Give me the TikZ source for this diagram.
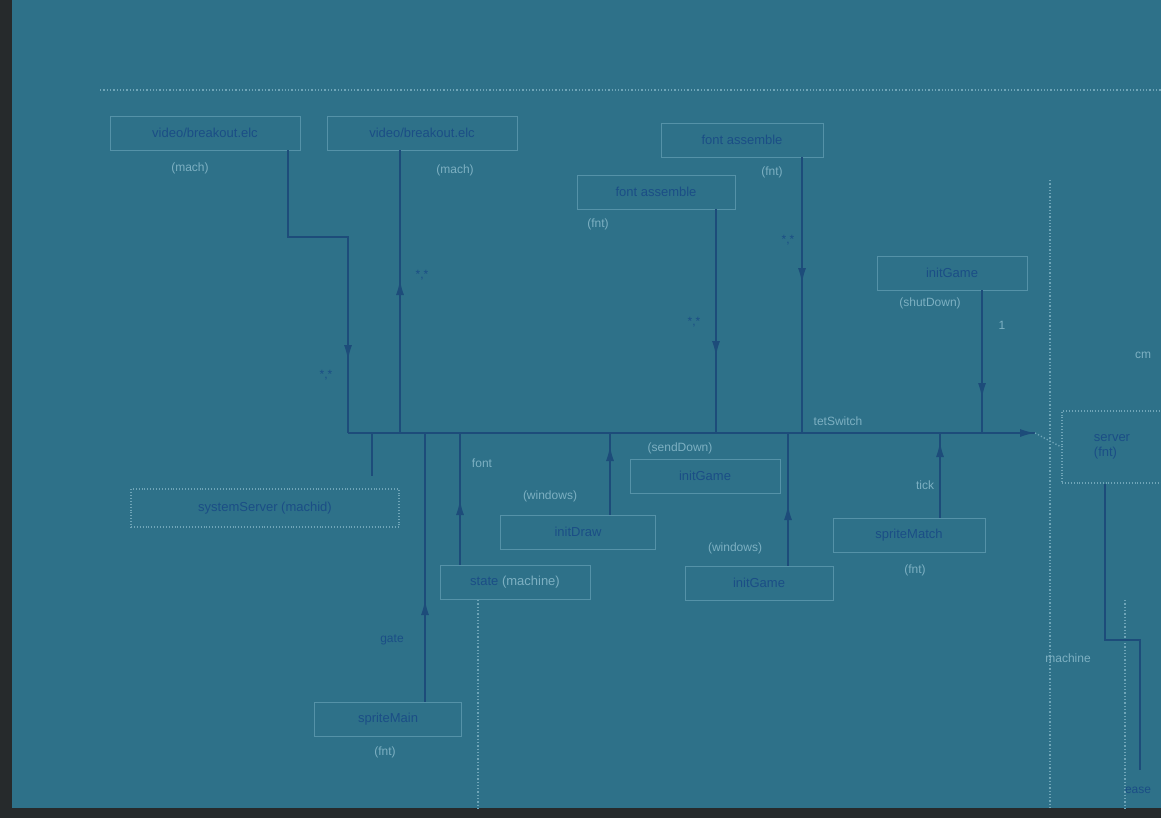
\documentclass[tikz,border=0pt]{standalone}
\usepackage{fontspec}
\setmainfont{Liberation Sans}
\usetikzlibrary{arrows.meta}
\definecolor{bg}{HTML}{2E7189}
\definecolor{frame}{HTML}{262A2C}
\definecolor{boxline}{HTML}{5592A8}
\definecolor{ink}{HTML}{1B4E86}
\definecolor{lite}{HTML}{7DB0C2}
\definecolor{wire}{HTML}{1D4C7A}
\definecolor{dots}{HTML}{6FA5B8}
\tikzset{
  mod/.style={draw=boxline, line width=0.9pt, text=ink, minimum height=34pt, inner xsep=8pt, font=\fontsize{13}{15}\selectfont},
  dmod/.style={mod, dotted, draw=dots, line width=1.5pt},
  tag/.style={text=lite, font=\fontsize{12}{14}\selectfont, inner sep=1pt},
  wlbl/.style={text=ink, font=\fontsize{12}{14}\selectfont, inner sep=1pt},
  wireline/.style={draw=wire, line width=1.5pt},
  arr/.style={wireline, -{Latex[length=15pt,width=8pt]}},
  guide/.style={draw=dots, dotted, line width=1.3pt},
}
\begin{document}
\begin{tikzpicture}[x=1pt,y=-1pt]
\fill[frame] (0,0) rectangle (1161,818);
\fill[bg] (12,0) rectangle (1161,808);
\useasboundingbox (0,0) rectangle (1161,818);

% guide lines
\draw[guide] (100,90) -- (1161,90);
\draw[guide] (1050,180) -- (1050,808);
\draw[guide] (478,600) -- (478,808);
\draw[guide] (1125,600) -- (1125,808);

% top modules
\node[mod, minimum width=190pt] (va) at (205,133) {video/breakout.elc};
\node[tag] (vat) at (190,168) {(mach)};
\node[mod, minimum width=190pt] (vb) at (422,133) {video/breakout.elc};
\node[tag] (vbt) at (455,170) {(mach)};
\node[mod, minimum width=162pt] (fa) at (742,140) {font assemble};
\node[tag] (fat) at (772,172) {(fnt)};
\node[mod, minimum width=158pt] (fb) at (656,192) {font assemble};
\node[tag] (fbt) at (598,224) {(fnt)};
\node[mod, minimum width=150pt] (ig) at (952,273) {initGame};
\node[tag] (igt) at (930,303) {(shutDown)};
\node[tag] (one) at (1002,325) {1};
\node[tag] (cm) at (1143,355) {cm};

% bus
\coordinate (b0) at (348,433);
\coordinate (b1) at (1035,433);
\node[dmod, minimum width=100pt, minimum height=72pt, align=left] (srv) at (1112,447) {server\\(fnt)};
\draw[wireline] (b0) -- (b1);
\draw[arr] (990,433) -- (1035,433);
\draw[guide] (1035,433) -- (srv.west);
\node[tag] (tsw) at (838,421) {tetSwitch};

% top connectors
\coordinate (va1) at (288,237);
\coordinate (va2) at (348,237);
\draw[wireline] (va.south -| va1) -- (va1) -- (va2) -- (b0);
\draw[arr] (348,300) -- (348,360);
\node[wlbl] (l1) at (326,375) {*,*};
\coordinate (vbb) at (400,433);
\draw[wireline] (vb.south -| vbb) -- (vbb);
\draw[arr] (400,340) -- (400,280);
\node[wlbl] (l2) at (422,275) {*,*};
\coordinate (fbb) at (716,433);
\draw[wireline] (fb.south -| fbb) -- (fbb);
\draw[arr] (716,300) -- (716,356);
\node[wlbl] (l3) at (694,322) {*,*};
\coordinate (fab) at (802,433);
\draw[wireline] (fa.south -| fab) -- (fab);
\draw[arr] (802,225) -- (802,283);
\node[wlbl] (l4) at (788,240) {*,*};
\coordinate (igb) at (982,433);
\draw[wireline] (ig.south -| igb) -- (igb);
\draw[arr] (982,340) -- (982,398);

% lower modules
\node[dmod, minimum width=268pt, minimum height=38pt] (sys) at (265,508) {systemServer (machid)};
\node[tag] (fnt1) at (482,463) {font};
\node[mod, minimum width=150pt] (st) at (515,582) {state \textcolor{lite}{(machine)}};
\node[tag] (wn1) at (550,496) {(windows)};
\node[mod, minimum width=155pt] (idw) at (578,532) {initDraw};
\node[tag] (sd) at (680,448) {(sendDown)};
\node[mod, minimum width=150pt] (ig2) at (705,476) {initGame};
\node[tag] (wn2) at (735,548) {(windows)};
\node[mod, minimum width=148pt] (ig3) at (759,583) {initGame};
\node[tag] (tk) at (925,485) {tick};
\node[mod, minimum width=152pt] (sm) at (909,535) {spriteMatch};
\node[tag] (smt) at (915,570) {(fnt)};
\node[mod, minimum width=147pt] (spm) at (388,719) {spriteMain};
\node[tag] (spmt) at (385,752) {(fnt)};
\node[wlbl] (gt) at (392,640) {gate};

% lower connectors
\coordinate (c372) at (372,433);
\draw[wireline] (c372) -- (372,476);
\coordinate (c425) at (425,433);
\draw[wireline] (spm.north -| c425) -- (c425);
\draw[arr] (425,660) -- (425,600);
\coordinate (c460) at (460,433);
\draw[wireline] (st.north -| c460) -- (c460);
\draw[arr] (460,555) -- (460,500);
\coordinate (c610) at (610,433);
\draw[wireline] (idw.north -| c610) -- (c610);
\draw[arr] (610,495) -- (610,446);
\coordinate (c788) at (788,433);
\draw[wireline] (ig3.north -| c788) -- (c788);
\draw[arr] (788,560) -- (788,505);
\coordinate (c940) at (940,433);
\draw[wireline] (sm.north -| c940) -- (c940);
\draw[arr] (940,490) -- (940,442);

% right lower connector
\coordinate (r1) at (1105,640);
\coordinate (r2) at (1140,640);
\coordinate (r3) at (1140,770);
\draw[wireline] (srv.south -| r1) -- (r1) -- (r2) -- (r3);
\node[tag] (mch) at (1068,658) {machine};
\node[wlbl] (es) at (1138,790) {ease};
\end{tikzpicture}
\end{document}
